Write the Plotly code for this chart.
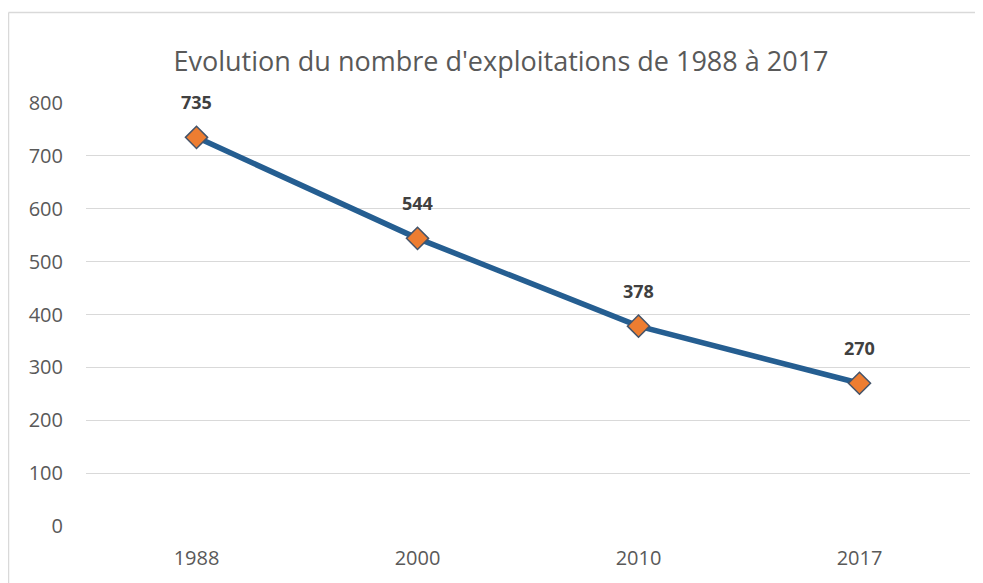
import plotly.graph_objects as go

years = ["1988", "2000", "2010", "2017"]
exploitations = [735, 544, 378, 270]
y_ticks = [0, 100, 200, 300, 400, 500, 600, 700, 800]
title_text = "Evolution du nombre d'exploitations de 1988 à 2017"

FONT = "Open Sans"
# page body has an 8px margin; the figure is sized/positioned to compensate
W, H = 975, 575
ML, MR, MT, MB = 78, 13, 95, 55
pw = W - ML - MR
ph = H - MT - MB

fig = go.Figure()
fig.add_trace(go.Scatter(
    x=years, y=exploitations, mode="lines+markers",
    line=dict(color="#255E91", width=5.5),
    marker=dict(symbol="diamond", size=17, color="#ED7D31",
                line=dict(color="#44546A", width=1.5)),
    hoverinfo="x+y", showlegend=False,
))

for i, v in enumerate(exploitations):
    fig.add_annotation(x=i, y=v, xref="x", yref="y", text="<b>%d</b>" % v,
                       showarrow=False, yshift=35,
                       font=dict(family=FONT, size=18, color="#404040"))

def px_x(p):
    return (p - ML) / pw

def px_y(p):
    return (H - MB - p) / ph

frame = dict(color="#D9D9D9", width=1.5)
fig.add_shape(type="line", xref="paper", yref="paper",
              x0=px_x(0.5), x1=px_x(0.5), y0=px_y(600), y1=px_y(4),
              line=frame, layer="below")
fig.add_shape(type="line", xref="paper", yref="paper",
              x0=px_x(0.5), x1=px_x(1100), y0=px_y(4), y1=px_y(4),
              line=frame, layer="below")

fig.update_layout(
    width=W, height=H,
    margin=dict(l=ML, r=MR, t=MT, b=MB),
    paper_bgcolor="white", plot_bgcolor="white",
    title=dict(text=title_text, x=493 / W, xanchor="center", y=1 - 54 / H, yanchor="middle",
               font=dict(family=FONT, size=27, color="#595959")),
    xaxis=dict(type="category", showgrid=False, showline=False, zeroline=False,
               ticks="", ticklabelstandoff=18,
               tickfont=dict(family=FONT, size=20, color="#595959"),
               range=[-0.5, 3.5]),
    yaxis=dict(range=[0, 800], tickvals=y_ticks, showgrid=True, gridcolor="#D9D9D9",
               gridwidth=1, zeroline=False, showline=False, ticks="",
               ticklabelstandoff=22,
               tickfont=dict(family=FONT, size=20, color="#595959")),
)

fig.write_html("out.html")
